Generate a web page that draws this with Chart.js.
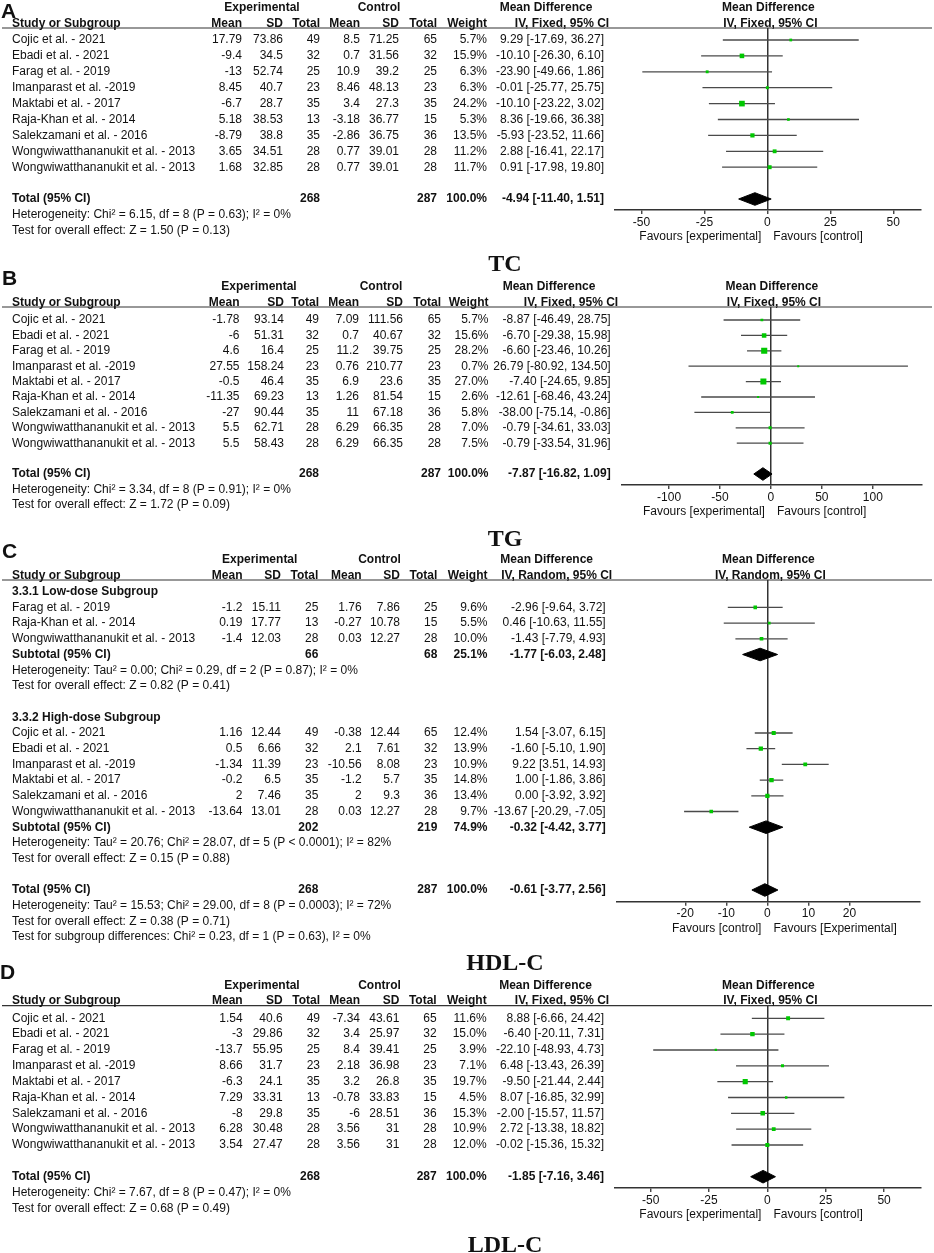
<!DOCTYPE html>
<html>
<head>
<meta charset="utf-8">
<script src="https://cdn.jsdelivr.net/npm/chart.js@4.4.0/dist/chart.umd.min.js"></script>
<style>
  html, body { margin: 0; padding: 0; background: #fff; }
  #wrap { position: relative; width: 934px; height: 1253px; overflow: hidden; }
  #wrap canvas { position: absolute; left: 0; top: 0; }
</style>
</head>
<body>
<div id="wrap">
  <canvas id="cA" width="934" height="1253"></canvas>
  <canvas id="cB" width="934" height="1253"></canvas>
  <canvas id="cC" width="934" height="1253"></canvas>
  <canvas id="cD" width="934" height="1253"></canvas>
</div>
<script>
// ---- data ----
const studies = ['Cojic et al. - 2021', 'Ebadi et al. - 2021', 'Farag et al. - 2019', 'Imanparast et al. -2019',
  'Maktabi et al. - 2017', 'Raja-Khan et al. - 2014', 'Salekzamani et al. - 2016',
  'Wongwiwatthananukit et al. - 2013', 'Wongwiwatthananukit et al. - 2013'];
const expN = [49, 32, 25, 23, 35, 13, 35, 28, 28];
const ctlN = [65, 32, 25, 23, 35, 15, 36, 28, 28];
const totalN = [268, 287];

// TC
const tcExpMean = [17.79, -9.4, -13, 8.45, -6.7, 5.18, -8.79, 3.65, 1.68];
const tcExpSD = [73.86, 34.5, 52.74, 40.7, 28.7, 38.53, 38.8, 34.51, 32.85];
const tcCtlMean = [8.5, 0.7, 10.9, 8.46, 3.4, -3.18, -2.86, 0.77, 0.77];
const tcCtlSD = [71.25, 31.56, 39.2, 48.13, 27.3, 36.77, 36.75, 39.01, 39.01];
const tcWeight = [5.7, 15.9, 6.3, 6.3, 24.2, 5.3, 13.5, 11.2, 11.7];
const tcMD = [9.29, -10.10, -23.90, -0.01, -10.10, 8.36, -5.93, 2.88, 0.91];
const tcLo = [-17.69, -26.30, -49.66, -25.77, -23.22, -19.66, -23.52, -16.41, -17.98];
const tcHi = [36.27, 6.10, 1.86, 25.75, 3.02, 36.38, 11.66, 22.17, 19.80];
const tcTotal = [-4.94, -11.40, 1.51];
const tcNotes = ['Heterogeneity: Chi² = 6.15, df = 8 (P = 0.63); I² = 0%', 'Test for overall effect: Z = 1.50 (P = 0.13)'];

// TG
const tgExpMean = [-1.78, -6, 4.6, 27.55, -0.5, -11.35, -27, 5.5, 5.5];
const tgExpSD = [93.14, 51.31, 16.4, 158.24, 46.4, 69.23, 90.44, 62.71, 58.43];
const tgCtlMean = [7.09, 0.7, 11.2, 0.76, 6.9, 1.26, 11, 6.29, 6.29];
const tgCtlSD = [111.56, 40.67, 39.75, 210.77, 23.6, 81.54, 67.18, 66.35, 66.35];
const tgWeight = [5.7, 15.6, 28.2, 0.7, 27.0, 2.6, 5.8, 7.0, 7.5];
const tgMD = [-8.87, -6.70, -6.60, 26.79, -7.40, -12.61, -38.00, -0.79, -0.79];
const tgLo = [-46.49, -29.38, -23.46, -80.92, -24.65, -68.46, -75.14, -34.61, -33.54];
const tgHi = [28.75, 15.98, 10.26, 134.50, 9.85, 43.24, -0.86, 33.03, 31.96];
const tgTotal = [-7.87, -16.82, 1.09];
const tgNotes = ['Heterogeneity: Chi² = 3.34, df = 8 (P = 0.91); I² = 0%', 'Test for overall effect: Z = 1.72 (P = 0.09)'];

// HDL-C, low-dose subgroup
const hdlLowStudies = ['Farag et al. - 2019', 'Raja-Khan et al. - 2014', 'Wongwiwatthananukit et al. - 2013'];
const hdlLowExpMean = [-1.2, 0.19, -1.4];
const hdlLowExpSD = [15.11, 17.77, 12.03];
const hdlLowExpN = [25, 13, 28];
const hdlLowCtlMean = [1.76, -0.27, 0.03];
const hdlLowCtlSD = [7.86, 10.78, 12.27];
const hdlLowCtlN = [25, 15, 28];
const hdlLowWeight = [9.6, 5.5, 10.0];
const hdlLowMD = [-2.96, 0.46, -1.43];
const hdlLowLo = [-9.64, -10.63, -7.79];
const hdlLowHi = [3.72, 11.55, 4.93];
const hdlLowSub = [-1.77, -6.03, 2.48];
const hdlLowSubN = [66, 68, 25.1];
const hdlLowNotes = ['Heterogeneity: Tau² = 0.00; Chi² = 0.29, df = 2 (P = 0.87); I² = 0%', 'Test for overall effect: Z = 0.82 (P = 0.41)'];

// HDL-C, high-dose subgroup
const hdlHighStudies = ['Cojic et al. - 2021', 'Ebadi et al. - 2021', 'Imanparast et al. -2019', 'Maktabi et al. - 2017',
  'Salekzamani et al. - 2016', 'Wongwiwatthananukit et al. - 2013'];
const hdlHighExpMean = [1.16, 0.5, -1.34, -0.2, 2, -13.64];
const hdlHighExpSD = [12.44, 6.66, 11.39, 6.5, 7.46, 13.01];
const hdlHighExpN = [49, 32, 23, 35, 35, 28];
const hdlHighCtlMean = [-0.38, 2.1, -10.56, -1.2, 2, 0.03];
const hdlHighCtlSD = [12.44, 7.61, 8.08, 5.7, 9.3, 12.27];
const hdlHighCtlN = [65, 32, 23, 35, 36, 28];
const hdlHighWeight = [12.4, 13.9, 10.9, 14.8, 13.4, 9.7];
const hdlHighMD = [1.54, -1.60, 9.22, 1.00, 0.00, -13.67];
const hdlHighLo = [-3.07, -5.10, 3.51, -1.86, -3.92, -20.29];
const hdlHighHi = [6.15, 1.90, 14.93, 3.86, 3.92, -7.05];
const hdlHighSub = [-0.32, -4.42, 3.77];
const hdlHighSubN = [202, 219, 74.9];
const hdlHighNotes = ['Heterogeneity: Tau² = 20.76; Chi² = 28.07, df = 5 (P < 0.0001); I² = 82%', 'Test for overall effect: Z = 0.15 (P = 0.88)'];
const hdlTotal = [-0.61, -3.77, 2.56];
const hdlNotes = ['Heterogeneity: Tau² = 15.53; Chi² = 29.00, df = 8 (P = 0.0003); I² = 72%', 'Test for overall effect: Z = 0.38 (P = 0.71)',
  'Test for subgroup differences: Chi² = 0.23, df = 1 (P = 0.63), I² = 0%'];

// LDL-C
const ldlExpMean = [1.54, -3, -13.7, 8.66, -6.3, 7.29, -8, 6.28, 3.54];
const ldlExpSD = [40.6, 29.86, 55.95, 31.7, 24.1, 33.31, 29.8, 30.48, 27.47];
const ldlCtlMean = [-7.34, 3.4, 8.4, 2.18, 3.2, -0.78, -6, 3.56, 3.56];
const ldlCtlSD = [43.61, 25.97, 39.41, 36.98, 26.8, 33.83, 28.51, 31, 31];
const ldlWeight = [11.6, 15.0, 3.9, 7.1, 19.7, 4.5, 15.3, 10.9, 12.0];
const ldlMD = [8.88, -6.40, -22.10, 6.48, -9.50, 8.07, -2.00, 2.72, -0.02];
const ldlLo = [-6.66, -20.11, -48.93, -13.43, -21.44, -16.85, -15.57, -13.38, -15.36];
const ldlHi = [24.42, 7.31, 4.73, 26.39, 2.44, 32.99, 11.57, 18.82, 15.32];
const ldlTotal = [-1.85, -7.16, 3.46];
const ldlNotes = ['Heterogeneity: Chi² = 7.67, df = 8 (P = 0.47); I² = 0%', 'Test for overall effect: Z = 0.68 (P = 0.49)'];

// ---- drawing ----
const W = 934, H = 1253, AXH = 20;
const SANS = '"Liberation Sans", Arial, Helvetica, sans-serif';
const SERIF = '"Liberation Serif", "Times New Roman", serif';
const INK = '#111';
const GREY = '#4a4a4a';
const GREEN = '#00c800';

function studyRows(start, names, em, es, en, cm, cs, cn, w, md, lo, hi) {
  return names.map((n, i) => ({ kind: 'study', row: start + i, name: n,
    em: em[i], es: es[i], en: en[i], cm: cm[i], cs: cs[i], cn: cn[i], w: w[i], md: md[i], lo: lo[i], hi: hi[i] }));
}
function noteRows(start, notes) {
  return notes.map((t, i) => ({ kind: 'note', row: start + i, name: t }));
}
function ciText(m, l, h) {
  return m.toFixed(2) + ' [' + l.toFixed(2) + ', ' + h.toFixed(2) + ']';
}

const panels = [
  { id: 'cA', letter: 'A', letterX: 1, letterY: 18, title: 'TC', titleY: 271,
    method: 'IV, Fixed, 95% CI', favL: 'Favours [experimental]', favR: 'Favours [control]',
    headerY: 28, firstRowY: 40, rowH: 15.9, axisY: 210, left: 615, right: 921,
    xmin: -60.5, xmax: 61, step: 25, tickLim: 50,
    cols: [242, 283, 320, 360, 399, 437, 487, 604], expC: 262, ctlC: 379, mdC: 546, ivC: 562,
    rows: [].concat(
      studyRows(0, studies, tcExpMean, tcExpSD, expN, tcCtlMean, tcCtlSD, ctlN, tcWeight, tcMD, tcLo, tcHi),
      [{ kind: 'total', row: 10, name: 'Total (95% CI)', en: totalN[0], cn: totalN[1], w: 100, md: tcTotal[0], lo: tcTotal[1], hi: tcTotal[2] }],
      noteRows(11, tcNotes)) },
  { id: 'cB', letter: 'B', letterX: 2, letterY: 285, title: 'TG', titleY: 545.5,
    method: 'IV, Fixed, 95% CI', favL: 'Favours [experimental]', favR: 'Favours [control]',
    headerY: 307, firstRowY: 320, rowH: 15.4, axisY: 485, left: 621.7, right: 921.7,
    xmin: -146.5, xmax: 148, step: 50, tickLim: 100,
    cols: [239.5, 284, 319, 359, 403, 441, 488.5, 610.7], expC: 259, ctlC: 381, mdC: 549, ivC: 571,
    rows: [].concat(
      studyRows(0, studies, tgExpMean, tgExpSD, expN, tgCtlMean, tgCtlSD, ctlN, tgWeight, tgMD, tgLo, tgHi),
      [{ kind: 'total', row: 10, name: 'Total (95% CI)', en: totalN[0], cn: totalN[1], w: 100, md: tgTotal[0], lo: tgTotal[1], hi: tgTotal[2] }],
      noteRows(11, tgNotes)) },
  { id: 'cC', letter: 'C', letterX: 2, letterY: 557.5, title: 'HDL-C', titleY: 970,
    method: 'IV, Random, 95% CI', favL: 'Favours [control]', favR: 'Favours [Experimental]',
    headerY: 580, firstRowY: 591.7, rowH: 15.7, axisY: 901.7, left: 616.7, right: 919.3,
    xmin: -36.7, xmax: 37, step: 10, tickLim: 20,
    cols: [242.5, 281, 318.3, 361.7, 400, 437.3, 487.5, 605.7], expC: 259.7, ctlC: 379.5, mdC: 546.7, ivC: 556.7,
    rows: [].concat(
      [{ kind: 'label', row: 0, name: '3.3.1 Low-dose Subgroup' }],
      studyRows(1, hdlLowStudies, hdlLowExpMean, hdlLowExpSD, hdlLowExpN, hdlLowCtlMean, hdlLowCtlSD, hdlLowCtlN, hdlLowWeight, hdlLowMD, hdlLowLo, hdlLowHi),
      [{ kind: 'sub', row: 4, name: 'Subtotal (95% CI)', en: hdlLowSubN[0], cn: hdlLowSubN[1], w: hdlLowSubN[2], md: hdlLowSub[0], lo: hdlLowSub[1], hi: hdlLowSub[2] }],
      noteRows(5, hdlLowNotes),
      [{ kind: 'label', row: 8, name: '3.3.2 High-dose Subgroup' }],
      studyRows(9, hdlHighStudies, hdlHighExpMean, hdlHighExpSD, hdlHighExpN, hdlHighCtlMean, hdlHighCtlSD, hdlHighCtlN, hdlHighWeight, hdlHighMD, hdlHighLo, hdlHighHi),
      [{ kind: 'sub', row: 15, name: 'Subtotal (95% CI)', en: hdlHighSubN[0], cn: hdlHighSubN[1], w: hdlHighSubN[2], md: hdlHighSub[0], lo: hdlHighSub[1], hi: hdlHighSub[2] }],
      noteRows(16, hdlHighNotes),
      [{ kind: 'total', row: 19, name: 'Total (95% CI)', en: totalN[0], cn: totalN[1], w: 100, md: hdlTotal[0], lo: hdlTotal[1], hi: hdlTotal[2] }],
      noteRows(20, hdlNotes)) },
  { id: 'cD', letter: 'D', letterX: 0, letterY: 979, title: 'LDL-C', titleY: 1251.5,
    method: 'IV, Fixed, 95% CI', favL: 'Favours [experimental]', favR: 'Favours [control]',
    headerY: 1005.7, firstRowY: 1018.3, rowH: 15.84, axisY: 1188, left: 615, right: 920.7,
    xmin: -65.3, xmax: 65.7, step: 25, tickLim: 50,
    cols: [242.7, 282.7, 320, 360, 399.3, 436.7, 486.7, 604], expC: 262, ctlC: 379.5, mdC: 545.5, ivC: 562,
    rows: [].concat(
      studyRows(0, studies, ldlExpMean, ldlExpSD, expN, ldlCtlMean, ldlCtlSD, ctlN, ldlWeight, ldlMD, ldlLo, ldlHi),
      [{ kind: 'total', row: 10, name: 'Total (95% CI)', en: totalN[0], cn: totalN[1], w: 100, md: ldlTotal[0], lo: ldlTotal[1], hi: ldlTotal[2] }],
      noteRows(11, ldlNotes)) }
];

function tablePlugin(p) {
  return {
    id: 'table_' + p.id,
    afterDraw(chart) {
      const c = chart.ctx, ys = chart.scales.y, xs = chart.scales.x;
      const top = chart.chartArea.top, bot = chart.chartArea.bottom;
      const zero = xs.getPixelForValue(0);
      const txt = (s, x, y, align, font) => {
        c.font = font || '12px ' + SANS;
        c.textAlign = align;
        c.fillText(s, x, y);
      };
      const B = 'bold 12px ' + SANS;
      c.save();
      c.fillStyle = INK;
      c.textBaseline = 'middle';

      // header rule
      c.strokeStyle = '#333';
      c.lineWidth = 1.2;
      c.beginPath();
      c.moveTo(2, top);
      c.lineTo(932, top);
      c.stroke();

      // headers
      const h1 = top - 20.5, h2 = top - 4.7;
      txt('Experimental', p.expC, h1, 'center', B);
      txt('Control', p.ctlC, h1, 'center', B);
      txt('Mean Difference', p.mdC, h1, 'center', B);
      txt('Mean Difference', zero + 1, h1, 'center', B);
      txt('Study or Subgroup', 12, h2, 'left', B);
      ['Mean', 'SD', 'Total', 'Mean', 'SD', 'Total', 'Weight'].forEach((s, i) => txt(s, p.cols[i], h2, 'right', B));
      txt(p.method, p.ivC, h2, 'center', B);
      txt(p.method, zero + 3, h2, 'center', B);

      // rows
      p.rows.forEach(r => {
        const y = ys.getPixelForValue(r.row);
        if (r.kind === 'study') {
          txt(r.name, 12, y, 'left');
          [r.em, r.es, r.en, r.cm, r.cs, r.cn].forEach((v, i) => txt(String(v), p.cols[i], y, 'right'));
          txt(r.w.toFixed(1) + '%', p.cols[6], y, 'right');
          txt(ciText(r.md, r.lo, r.hi), p.cols[7], y, 'right');
        } else if (r.kind === 'sub' || r.kind === 'total') {
          txt(r.name, 12, y, 'left', B);
          txt(String(r.en), p.cols[2], y, 'right', B);
          txt(String(r.cn), p.cols[5], y, 'right', B);
          txt(r.w.toFixed(1) + '%', p.cols[6], y, 'right', B);
          txt(ciText(r.md, r.lo, r.hi), p.cols[7], y, 'right', B);
        } else if (r.kind === 'label') {
          txt(r.name, 12, y, 'left', B);
        } else {
          txt(r.name, 12, y, 'left');
        }
      });

      // favours
      txt(p.favL, zero - 6, bot + 26.5, 'right');
      txt(p.favR, zero + 6, bot + 26.5, 'left');

      // panel letter and outcome title
      c.textBaseline = 'alphabetic';
      txt(p.letter, p.letterX, p.letterY, 'left', 'bold 21px ' + SANS);
      txt(p.title, 505, p.titleY, 'center', 'bold 24px ' + SERIF);
      c.restore();
    }
  };
}

function makePanel(p) {
  const half = 6.3 / p.rowH;
  const studyPts = p.rows.filter(r => r.kind === 'study');
  const pooled = p.rows.filter(r => r.kind === 'sub' || r.kind === 'total');
  const datasets = [];
  datasets.push({
    type: 'scatter', order: 0,
    data: studyPts.map(r => ({ x: r.md, y: r.row })),
    pointStyle: 'rect',
    pointRadius: studyPts.map(r => Math.max(2, 1.15 * Math.sqrt(r.w)) / Math.SQRT2),
    backgroundColor: GREEN, borderColor: GREEN, borderWidth: 0
  });
  pooled.forEach(r => datasets.push({
    type: 'line', order: 1,
    data: [{ x: r.lo, y: r.row }, { x: r.md, y: r.row - half }, { x: r.hi, y: r.row }, { x: r.md, y: r.row + half }, { x: r.lo, y: r.row }],
    borderColor: '#000', backgroundColor: '#000', borderWidth: 1, fill: 'shape', pointRadius: 0
  }));
  studyPts.forEach(r => datasets.push({
    type: 'line', order: 2,
    data: [{ x: r.lo, y: r.row }, { x: r.hi, y: r.row }],
    borderColor: GREY, borderWidth: 1.3, pointRadius: 0, fill: false
  }));

  new Chart(document.getElementById(p.id), {
    type: 'scatter',
    data: { datasets },
    options: {
      responsive: false,
      animation: false,
      events: [],
      layout: {
        autoPadding: false,
        padding: { left: p.left, right: W - p.right, top: p.headerY, bottom: H - p.axisY - AXH }
      },
      plugins: { legend: { display: false }, tooltip: { enabled: false } },
      scales: {
        x: {
          type: 'linear', min: p.xmin, max: p.xmax,
          afterFit: s => { s.height = AXH; },
          afterBuildTicks: s => { s.ticks = s.ticks.filter(t => Math.abs(t.value) <= p.tickLim); },
          border: { display: true, color: '#333', width: 1.5 },
          grid: {
            color: g => (g.tick && g.tick.value === 0 ? '#333' : 'rgba(0,0,0,0)'),
            lineWidth: 1.5, tickLength: 4, tickColor: '#333', tickWidth: 1.3
          },
          ticks: { stepSize: p.step, includeBounds: false, color: INK, padding: 1,
            maxRotation: 0, autoSkip: false, font: { family: SANS, size: 12 } }
        },
        y: {
          type: 'linear', reverse: true, display: false,
          min: (p.headerY - p.firstRowY) / p.rowH,
          max: (p.axisY - p.firstRowY) / p.rowH
        }
      }
    },
    plugins: [tablePlugin(p)]
  });
}

panels.forEach(makePanel);
</script>
</body>
</html>
